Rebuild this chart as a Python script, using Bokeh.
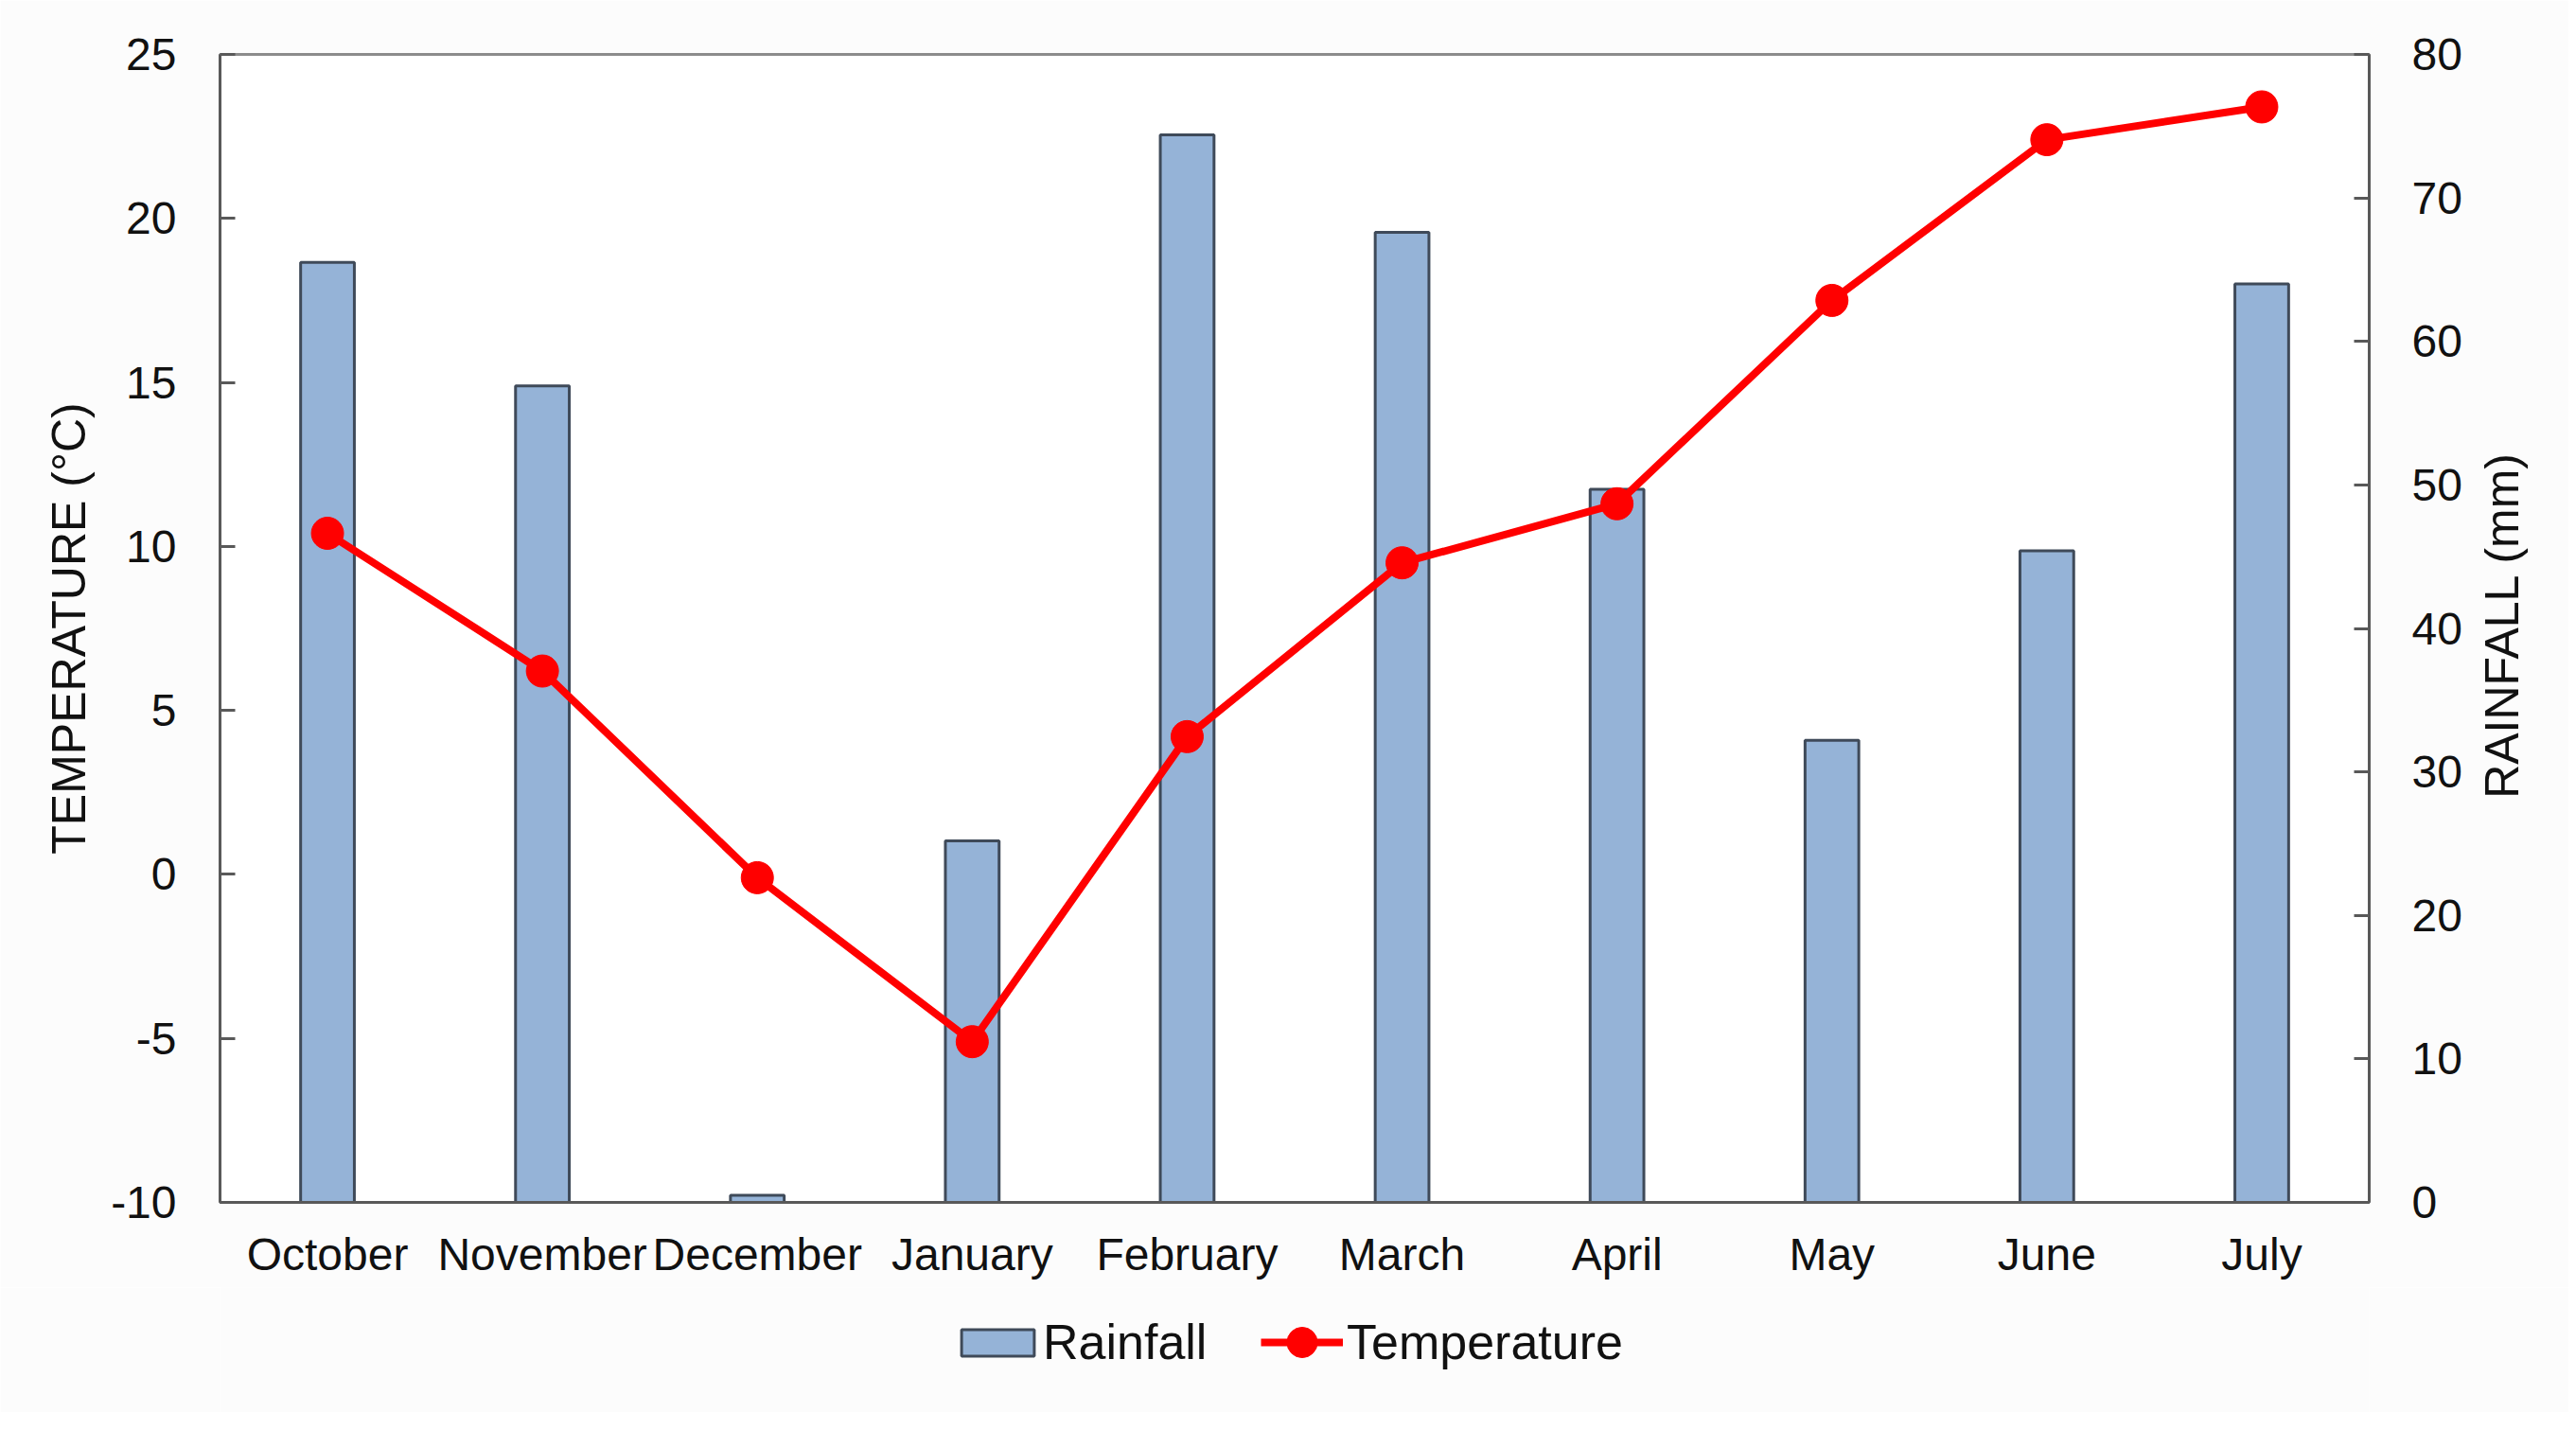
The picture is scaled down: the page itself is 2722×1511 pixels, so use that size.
from bokeh.plotting import figure
from bokeh.layouts import column
from bokeh.models import (Range1d, LinearAxis, FixedTicker, FactorRange, Legend, LegendItem,
                          ColumnDataSource, PrintfTickFormatter, Label)
from bokeh.embed import file_html
from bokeh.resources import INLINE
import math

months = ["October", "November", "December", "January", "February",
          "March", "April", "May", "June", "July"]
rainfall_mm = [65.5, 56.9, 0.5, 25.2, 74.4, 67.6, 49.7, 32.2, 45.4, 64.0]
temperature_c = [10.4, 6.2, -0.1, -5.1, 4.2, 9.5, 11.3, 17.5, 22.4, 23.4]
temp_ticks = [-10, -5, 0, 5, 10, 15, 20, 25]
rain_ticks = [0, 10, 20, 30, 40, 50, 60, 70, 80]

FONT = "Liberation Sans"
AX = "#595959"
TXT = "#111111"
BG = "#fcfcfc"
BAR_FILL = "#95b3d7"
BAR_LINE = "#3f4a59"
RED = "#ff0000"

src = ColumnDataSource(dict(month=months, rain=rainfall_mm, temp=temperature_c))

PW, PH = 2714, 1360
p = figure(width=PW, height=PH,
           x_range=FactorRange(factors=months),
           y_range=Range1d(-10, 25),
           output_backend="svg", toolbar_location=None,
           min_border_left=232, min_border_right=PW - 2503,
           min_border_top=57, min_border_bottom=PH - 1270)
p.extra_y_ranges = {"rain": Range1d(0, 80)}

p.background_fill_color = "#ffffff"
p.border_fill_color = BG
p.outline_line_color = "#8c8c8c"
p.outline_line_width = 3
p.xgrid.visible = False
p.ygrid.visible = False

p.vbar(x="month", top="rain", width=0.25, source=src, y_range_name="rain",
       fill_color=BAR_FILL, line_color=BAR_LINE, line_width=3)
p.line(x="month", y="temp", source=src, line_color=RED, line_width=8)
p.scatter(x="month", y="temp", source=src, size=34, marker="circle",
          fill_color=RED, line_color=RED)

# x axis
xa = p.xaxis[0]
xa.axis_line_color = AX
xa.axis_line_width = 3
xa.major_tick_in = 0
xa.major_tick_out = 0
xa.minor_tick_line_color = None
xa.major_label_text_font = FONT
xa.major_label_text_font_size = "48px"
xa.major_label_text_color = TXT
xa.major_label_standoff = 28

# left axis
ya = p.yaxis[0]
ya.ticker = FixedTicker(ticks=temp_ticks)
ya.formatter = PrintfTickFormatter(format="%d")
ya.axis_line_color = AX
ya.axis_line_width = 3
ya.major_tick_line_color = AX
ya.major_tick_line_width = 3
ya.major_tick_in = 16
ya.major_tick_out = 0
ya.minor_tick_line_color = None
ya.major_label_text_font = FONT
ya.major_label_text_font_size = "48px"
ya.major_label_text_color = TXT
ya.major_label_standoff = 46
ya.axis_label = "TEMPERATURE (°C)"
ya.axis_label_text_font = FONT
ya.axis_label_text_font_size = "50px"
ya.axis_label_text_font_style = "normal"
ya.axis_label_text_color = TXT
ya.axis_label_standoff = 13

# right axis
ra = LinearAxis(y_range_name="rain", ticker=FixedTicker(ticks=rain_ticks),
                formatter=PrintfTickFormatter(format="%d"))
ra.axis_line_color = AX
ra.axis_line_width = 3
ra.major_tick_line_color = AX
ra.major_tick_line_width = 3
ra.major_tick_in = 16
ra.major_tick_out = 0
ra.minor_tick_line_color = None
ra.major_label_text_font = FONT
ra.major_label_text_font_size = "48px"
ra.major_label_text_color = TXT
ra.major_label_standoff = 45
p.add_layout(ra, "right")

# right axis title in its own side panel, reading bottom to top
p.add_layout(Label(x=39, y=1270 - 660, x_units="screen", y_units="screen",
                   text="RAINFALL (mm)", angle=math.pi / 2,
                   text_align="center", text_baseline="middle",
                   text_font=FONT, text_font_size="50px", text_color=TXT), "right")

# legend strip below the chart (proxy renderers hold no visible data)
LH = 132
lfig = figure(width=PW, height=LH, x_range=Range1d(0, 1), y_range=Range1d(0, 1),
              output_backend="svg", toolbar_location=None,
              x_axis_location=None, y_axis_location=None, min_border=0)
lfig.xgrid.visible = False
lfig.ygrid.visible = False
lfig.outline_line_color = None
lfig.background_fill_color = BG
lfig.border_fill_color = BG
proxy = ColumnDataSource(dict(x=[float("nan")], y=[float("nan")]))
lbar = lfig.vbar(x="x", top="y", width=0.1, source=proxy,
                 fill_color=BAR_FILL, line_color=BAR_LINE, line_width=3)
lline = lfig.line(x="x", y="y", source=proxy, line_color=RED, line_width=8)
lpts = lfig.scatter(x="x", y="y", source=proxy, size=34, marker="circle",
                    fill_color=RED, line_color=RED)

common = dict(orientation="horizontal", label_text_font=FONT, label_text_font_size="52px",
              label_text_color=TXT, border_line_color=None, background_fill_alpha=0,
              margin=0, padding=0)
leg_rain = Legend(items=[LegendItem(label="Rainfall", renderers=[lbar])],
                  location=(774, 44), glyph_width=96, glyph_height=35,
                  label_standoff=0, **common)
leg_temp = Legend(items=[LegendItem(label="Temperature", renderers=[lline, lpts])],
                  location=(1100, 34), glyph_width=87, glyph_height=80,
                  label_standoff=4, **common)
lfig.add_layout(leg_rain, "center")
lfig.add_layout(leg_temp, "center")

layout = column(p, lfig)
open("out.html", "w").write(file_html(layout, INLINE))
